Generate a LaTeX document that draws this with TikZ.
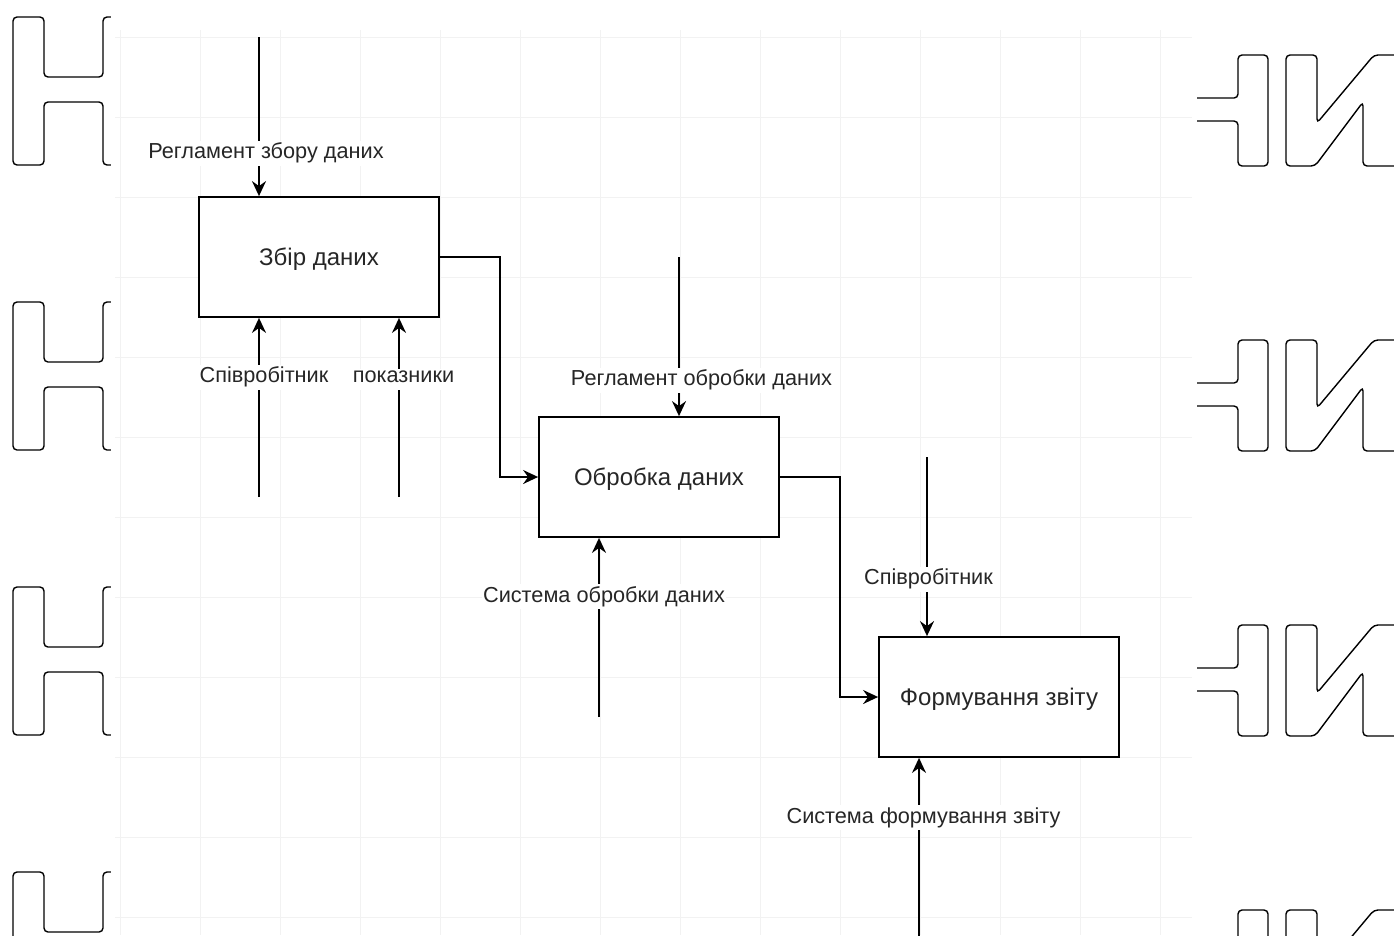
\documentclass[tikz,border=0pt]{standalone}
\usepackage{fontspec}
\setmainfont{Liberation Sans}
\usetikzlibrary{arrows.meta}
\begin{document}
\begin{tikzpicture}[x=1pt,y=-1pt,
  wm/.style={draw=black, line width=1.4pt, rounded corners=4pt},
  gridl/.style={draw=black!5, line width=1pt},
  box/.style={draw=black, line width=1.8pt, fill=white, minimum width=240pt, minimum height=120pt,
    inner sep=0pt, font=\fontsize{24}{28}\selectfont, text=black!85, text height=17pt, text depth=0pt},
  lab/.style={fill=white, inner xsep=1pt, inner ysep=2pt, font=\fontsize{21.7}{26}\selectfont,
    text=black!85, anchor=base, text depth=5pt},
  arr/.style={draw=black, line width=1.8pt, -{Stealth[length=15pt,width=14pt,inset=5pt]}}
]
\clip (0,0) rectangle (1394,935);
\fill[white] (0,0) rectangle (1394,935);
% watermark letters
\foreach \k in {0,1,2,3}{
  \begin{scope}[shift={(0,285*\k)}]
    \draw[wm] (112,17) -- (103,17) -- (103,77) -- (44,77) -- (44,17) -- (13,17) -- (13,165) -- (44,165) -- (44,102) -- (103,102) -- (103,165) -- (112,165);
    \draw[wm] (1190,98) -- (1238,98) -- (1238,55) -- (1268,55) -- (1268,166) -- (1238,166) -- (1238,121) -- (1190,121);
    \draw[wm] (1400,55) -- (1374,55) -- (1317,123) -- (1317,55) -- (1286,55) -- (1286,166) -- (1315,166) -- (1363,102) -- (1363,166) -- (1400,166);
  \end{scope}
}
\fill[white] (111,0) rectangle (1197,935);
% faint grid
\foreach \i in {0,...,13}{ \draw[gridl] (120+80*\i,30) -- (120+80*\i,935); }
\foreach \j in {0,...,11}{ \draw[gridl] (115,37+80*\j) -- (1192,37+80*\j); }
% boxes
\node[box] (b1) at (319,257) {Збір даних};
\node[box] (b2) at (659,477) {Обробка даних};
\node[box] (b3) at (999,697) {Формування звіту};
% free ends
\coordinate (c1) at (259,37);
\coordinate (c2) at (259,497);
\coordinate (c3) at (399,497);
\coordinate (c4) at (679,257);
\coordinate (c5) at (599,717);
\coordinate (c6) at (927,457);
\coordinate (c7) at (919,940);
% connectors
\draw[arr] (c1) -- (c1 |- b1.north);
\draw[arr] (c2) -- (c2 |- b1.south);
\draw[arr] (c3) -- (c3 |- b1.south);
\draw[arr] (b1.east) -- ++(60,0) |- (b2.west);
\draw[arr] (c4) -- (c4 |- b2.north);
\draw[arr] (c5) -- (c5 |- b2.south);
\draw[arr] (b2.east) -- ++(60,0) |- (b3.west);
\draw[arr] (c6) -- (c6 |- b3.north);
\draw[arr] (c7) -- (c7 |- b3.south);
% labels
\node[lab] (l1) at (266,158.5) {Регламент збору даних};
\node[lab] (l2) at (264,382.5) {Співробітник};
\node[lab] (l3) at (403.5,382.5) {показники};
\node[lab] (l4) at (701.5,385.5) {Регламент обробки даних};
\node[lab] (l5) at (604,602) {Система обробки даних};
\node[lab] (l6) at (928.5,584.5) {Співробітник};
\node[lab] (l7) at (923.5,823) {Система формування звіту};
\end{tikzpicture}
\end{document}
